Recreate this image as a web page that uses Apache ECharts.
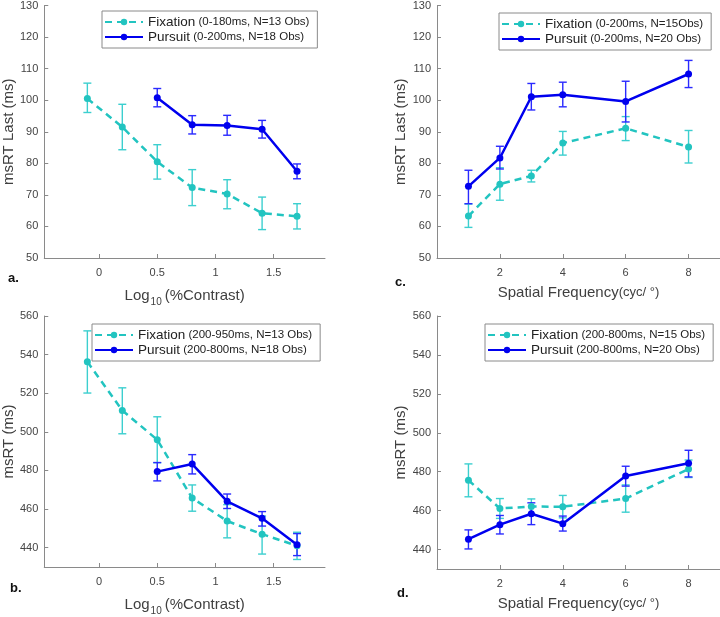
<!DOCTYPE html>
<html><head><meta charset="utf-8">
<script src="https://cdn.jsdelivr.net/npm/echarts@6/dist/echarts.min.js"></script>
<style>html,body{margin:0;padding:0;background:#fff}#c{width:720px;height:617px}</style>
</head><body><div id="c"></div>
<script>
// ---- data ----
const contrastX = [-0.1, 0.2, 0.5, 0.8, 1.1, 1.4, 1.7];
const contrastPurX = [0.5, 0.8, 1.1, 1.4, 1.7];
const sfX = [1, 2, 3, 4, 6, 8];
const contrastTicks = [0, 0.5, 1, 1.5];
const sfTicks = [2, 4, 6, 8];
const lastTicks = [50, 60, 70, 80, 90, 100, 110, 120, 130];
const rtTicks = [440, 460, 480, 500, 520, 540, 560];

const aFixMean = [100.5, 91.5, 80.5, 72.3, 70.3, 64.2, 63.2];
const aFixLo   = [96.1, 84.3, 75.0, 66.6, 65.6, 59.0, 59.2];
const aFixHi   = [105.4, 98.7, 85.9, 78.0, 74.8, 69.3, 67.2];
const aPurMean = [100.8, 92.2, 92.0, 90.8, 77.5];
const aPurLo   = [97.9, 89.3, 88.9, 88.0, 75.1];
const aPurHi   = [103.7, 95.1, 95.2, 93.6, 79.8];

const bFixMean = [536.3, 511.1, 495.9, 465.7, 453.8, 447.0, 441.0];
const bFixLo   = [520.1, 499.0, 484.0, 458.9, 445.1, 436.7, 433.9];
const bFixHi   = [552.3, 522.8, 507.8, 472.5, 462.3, 456.4, 448.0];
const bPurMean = [479.4, 483.3, 464.0, 455.2, 441.5];
const bPurLo   = [474.6, 478.2, 460.3, 451.2, 435.9];
const bPurHi   = [484.1, 488.2, 467.8, 458.7, 447.3];

const cFixMean = [63.3, 73.4, 76.0, 86.4, 91.1, 85.2];
const cFixLo   = [59.7, 68.3, 74.1, 82.6, 87.2, 80.1];
const cFixHi   = [67.1, 78.6, 77.8, 90.1, 94.8, 90.4];
const cPurMean = [72.7, 81.7, 101.1, 101.7, 99.6, 108.3];
const cPurLo   = [67.2, 78.2, 96.9, 97.9, 93.1, 104.0];
const cPurHi   = [77.8, 85.4, 105.3, 105.7, 106.0, 112.6];

const dFixMean = [475.6, 461.1, 462.1, 462.0, 466.2, 481.4];
const dFixLo   = [467.1, 456.0, 458.0, 456.3, 459.2, 477.0];
const dFixHi   = [484.0, 466.2, 466.0, 467.8, 473.2, 486.0];
const dPurMean = [445.3, 452.8, 458.4, 453.3, 477.8, 484.3];
const dPurLo   = [440.3, 448.0, 452.8, 449.5, 472.6, 477.3];
const dPurHi   = [450.1, 457.5, 464.0, 457.2, 482.8, 491.0];

const names = {
  aFix: 'Fixation (0-180ms, N=13 Obs)', aPur: 'Pursuit (0-200ms, N=18 Obs)',
  bFix: 'Fixation (200-950ms, N=13 Obs)', bPur: 'Pursuit (200-800ms, N=18 Obs)',
  cFix: 'Fixation (0-200ms, N=15Obs)', cPur: 'Pursuit (0-200ms, N=20 Obs)',
  dFix: 'Fixation (200-800ms, N=15 Obs)', dPur: 'Pursuit (200-800ms, N=20 Obs)'
};

// ---- styling ----
const FIX = '#22c4c0', FIXERR = '#3ccfcf';
const PUR = '#0000ee', PURERR = '#2a2aff';
const AXC = '#8a8a8a', LBL = '#444', TTL = '#404040';
const FONT = 'Liberation Sans, Arial, sans-serif';

const chart = echarts.init(document.getElementById('c'));

const grids = [
  {left: 44, top: 5, width: 281, height: 253},
  {left: 43, top: 316, width: 282, height: 253},
  {left: 437, top: 4, width: 283, height: 254},
  {left: 437, top: 316, width: 283, height: 253}
];

function xAxisDef(gi, min, max, ticks, nameRich) {
  return {
    type: 'value', gridIndex: gi, min: min, max: max, position: 'bottom',
    axisLine: {onZero: false, lineStyle: {color: AXC, width: 1}},
    axisTick: {inside: true, length: 4, customValues: ticks, lineStyle: {color: AXC}},
    axisLabel: {customValues: ticks, color: LBL, fontSize: 11, fontFamily: FONT, margin: 9},
    splitLine: {show: false},
    name: nameRich, nameLocation: 'middle', nameGap: 27,
    nameTextStyle: {color: TTL, fontFamily: FONT, fontSize: 15, rich: {
      t: {fontSize: 15, color: TTL, fontFamily: FONT},
      sub: {fontSize: 10, color: TTL, fontFamily: FONT, padding: [12, 3, 0, 1]},
      s: {fontSize: 13, color: TTL, fontFamily: FONT}
    }}
  };
}
function yAxisDef(gi, min, max, ticks, name) {
  return {
    type: 'value', gridIndex: gi, min: min, max: max, position: 'left',
    axisLine: {show: true, onZero: false, lineStyle: {color: AXC, width: 1}},
    axisTick: {show: true, inside: true, length: 4, customValues: ticks, lineStyle: {color: AXC}},
    axisLabel: {customValues: ticks, color: LBL, fontSize: 11, fontFamily: FONT, margin: 6},
    splitLine: {show: false},
    name: name, nameLocation: 'middle', nameGap: 25,
    nameTextStyle: {color: TTL, fontFamily: FONT, fontSize: 15}
  };
}

const contrastName = '{t|Log}{sub|10}{t|(%Contrast)}';
const sfName = '{t|Spatial Frequency}{s|(cyc/ °)}';

function lineSeries(name, gi, xs, ys, color, dashed) {
  return {
    type: 'line', name: name, xAxisIndex: gi, yAxisIndex: gi,
    data: xs.map((x, i) => [x, ys[i]]),
    symbol: 'circle', symbolSize: 7,
    lineStyle: {color: color, width: 2.5, type: dashed ? [7, 5] : 'solid'},
    itemStyle: {color: color},
    z: dashed ? 3 : 4, animation: false
  };
}
function errSeries(gi, xs, lo, hi, color) {
  return {
    type: 'custom', xAxisIndex: gi, yAxisIndex: gi,
    data: xs.map((x, i) => [x, lo[i], hi[i]]),
    encode: {x: 0, y: [1, 2]}, z: 2, animation: false, silent: true,
    renderItem: function (params, api) {
      const x = api.value(0);
      const t = api.coord([x, api.value(2)]);
      const b = api.coord([x, api.value(1)]);
      const w = 4;
      const st = {stroke: color, lineWidth: 1.4, fill: null};
      return {type: 'group', children: [
        {type: 'line', shape: {x1: t[0], y1: t[1], x2: b[0], y2: b[1]}, style: st},
        {type: 'line', shape: {x1: t[0] - w, y1: t[1], x2: t[0] + w, y2: t[1]}, style: st},
        {type: 'line', shape: {x1: b[0] - w, y1: b[1], x2: b[0] + w, y2: b[1]}, style: st}
      ]};
    }
  };
}
function legendDef(left, top, list) {
  return {
    data: list, left: left, top: top, orient: 'vertical',
    itemWidth: 38, itemHeight: 8, itemGap: 1,
    padding: [4, 8, 4, 2],
    borderColor: '#8a8a8a', borderWidth: 1, backgroundColor: '#fff',
    selectedMode: false,
    formatter: function (n) {
      const i = n.indexOf(' ');
      return '{m|' + n.slice(0, i) + '}{s|' + n.slice(i) + '}';
    },
    textStyle: {rich: {
      m: {fontSize: 13.5, color: '#222', fontFamily: FONT},
      s: {fontSize: 11.5, color: '#222', fontFamily: FONT}
    }}
  };
}

const option = {
  animation: false,
  grid: grids,
  xAxis: [
    xAxisDef(0, -0.47, 1.94, contrastTicks, contrastName),
    xAxisDef(1, -0.47, 1.94, contrastTicks, contrastName),
    xAxisDef(2, 0, 9, sfTicks, sfName),
    xAxisDef(3, 0, 9, sfTicks, sfName)
  ],
  yAxis: [
    yAxisDef(0, 50, 130, lastTicks, 'msRT Last (ms)'),
    yAxisDef(1, 430, 560, rtTicks, 'msRT (ms)'),
    yAxisDef(2, 50, 130, lastTicks, 'msRT Last (ms)'),
    yAxisDef(3, 430, 560, rtTicks, 'msRT (ms)')
  ],
  legend: [
    legendDef(102, 11, [names.aFix, names.aPur]),
    legendDef(92, 324, [names.bFix, names.bPur]),
    legendDef(499, 13, [names.cFix, names.cPur]),
    legendDef(485, 324, [names.dFix, names.dPur])
  ],
  series: [
    errSeries(0, contrastX, aFixLo, aFixHi, FIXERR),
    errSeries(0, contrastPurX, aPurLo, aPurHi, PURERR),
    lineSeries(names.aFix, 0, contrastX, aFixMean, FIX, true),
    lineSeries(names.aPur, 0, contrastPurX, aPurMean, PUR, false),

    errSeries(1, contrastX, bFixLo, bFixHi, FIXERR),
    errSeries(1, contrastPurX, bPurLo, bPurHi, PURERR),
    lineSeries(names.bFix, 1, contrastX, bFixMean, FIX, true),
    lineSeries(names.bPur, 1, contrastPurX, bPurMean, PUR, false),

    errSeries(2, sfX, cFixLo, cFixHi, FIXERR),
    errSeries(2, sfX, cPurLo, cPurHi, PURERR),
    lineSeries(names.cFix, 2, sfX, cFixMean, FIX, true),
    lineSeries(names.cPur, 2, sfX, cPurMean, PUR, false),

    errSeries(3, sfX, dFixLo, dFixHi, FIXERR),
    errSeries(3, sfX, dPurLo, dPurHi, PURERR),
    lineSeries(names.dFix, 3, sfX, dFixMean, FIX, true),
    lineSeries(names.dPur, 3, sfX, dPurMean, PUR, false)
  ],
  graphic: [
    {type: 'text', left: 8, top: 272, style: {text: 'a.', font: 'bold 13px ' + FONT, fill: '#111'}},
    {type: 'text', left: 10, top: 582, style: {text: 'b.', font: 'bold 13px ' + FONT, fill: '#111'}},
    {type: 'text', left: 395, top: 276, style: {text: 'c.', font: 'bold 13px ' + FONT, fill: '#111'}},
    {type: 'text', left: 397, top: 587, style: {text: 'd.', font: 'bold 13px ' + FONT, fill: '#111'}}
  ]
};
chart.setOption(option);
</script></body></html>
